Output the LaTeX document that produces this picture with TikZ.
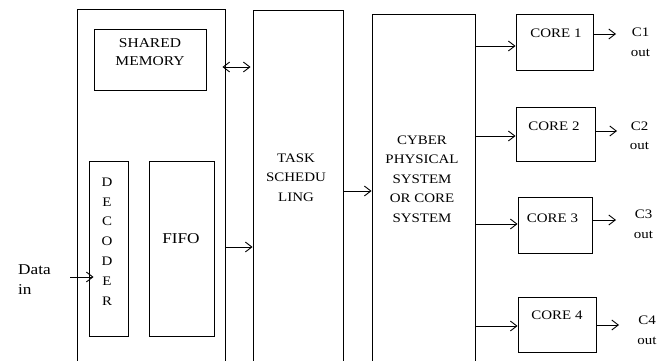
\documentclass[tikz,border=0pt]{standalone}
\usepackage{fontspec}
\setmainfont{Liberation Serif}[FakeStretch=1.15]
\usetikzlibrary{arrows.meta}
\begin{document}
\begin{tikzpicture}[x=1pt,y=-1pt,
  box/.style={draw, line width=0.9pt, inner sep=0pt},
  lbl/.style={inner sep=0pt, align=center, font=\fontsize{13}{19.5}\selectfont},
  big/.style={font=\fontsize{15}{20}\selectfont},
  tip/.tip={Straight Barb[length=6.5pt,width=10pt,line width=0.9pt]},
  arr/.style={-tip, line width=0.9pt},
  darr/.style={tip-tip, line width=0.9pt}]
\useasboundingbox (0,0) rectangle (670,361);
\clip (0,0) rectangle (670,361);

% input buffer block with shared memory, decoder and FIFO
\node[box, minimum width=148pt, minimum height=372pt] (buf) at (151,195) {};
\node[box, minimum width=112pt, minimum height=61pt] (mem) at (150,59.5) {};
\node[lbl, font=\fontsize{13.5}{18}\selectfont] (memtxt) at (150,52) {SHARED\\MEMORY};
\node[box, minimum width=39pt, minimum height=175pt] (dec) at (108.5,248.5) {};
\node[lbl, font=\fontsize{13}{19.8}\selectfont] (dectxt) at (107,241.5) {D\\E\\C\\O\\D\\E\\R};
\node[box, minimum width=65pt, minimum height=175pt] (fifo) at (181.5,248.5) {};
\node[lbl, big] (fifotxt) at (181,239) {FIFO};

% scheduler and core system
\node[box, minimum width=90pt, minimum height=372pt] (task) at (298,196) {};
\node[lbl] (tasktxt) at (296,177.5) {TASK\\SCHEDU\\LING};
\node[box, minimum width=103pt, minimum height=370pt] (cps) at (423.5,199) {};
\node[lbl] (cpstxt) at (422,179) {CYBER\\PHYSICAL\\SYSTEM\\OR CORE\\SYSTEM};

% cores
\node[box, minimum width=77pt, minimum height=56pt] (core1) at (554.5,42) {};
\node[lbl] (c1txt) at (556,33) {CORE 1};
\node[box, minimum width=79pt, minimum height=54pt] (core2) at (555.5,134) {};
\node[lbl] (c2txt) at (554,126) {CORE 2};
\node[box, minimum width=74pt, minimum height=56pt] (core3) at (555,225) {};
\node[lbl] (c3txt) at (552.5,218) {CORE 3};
\node[box, minimum width=78pt, minimum height=55pt] (core4) at (557,324.5) {};
\node[lbl] (c4txt) at (557,315) {CORE 4};

% outputs
\coordinate (o1) at (616,34);
\coordinate (o2) at (617,131);
\coordinate (o3) at (616,220);
\coordinate (o4) at (619,325);
\node[lbl] (out1) at (640.5,42.5) {C1\\out};
\node[lbl] (out2) at (639.5,136) {C2\\out};
\node[lbl] (out3) at (643.5,224.5) {C3\\out};
\node[lbl] (out4) at (647,330.5) {C4\\out};

% data input
\node[lbl, big, align=left, anchor=west] (datain) at (18,280) {Data\\in};
\coordinate (din) at (70,277);

% connectors
\draw[arr] (din) -- ([xshift=5pt]dec.west |- din);
\draw[darr] ([xshift=-3pt]buf.east |- 0,67) -- ([xshift=-2pt]task.west |- 0,67);
\draw[arr] (buf.east |- 0,247) -- (task.west |- 0,247);
\draw[arr] (task.east |- 0,191) -- (cps.west |- 0,191);
\draw[arr] (cps.east |- 0,46) -- (core1.west |- 0,46);
\draw[arr] (cps.east |- 0,136) -- (core2.west |- 0,136);
\draw[arr] (cps.east |- 0,224) -- (core3.west |- 0,224);
\draw[arr] (cps.east |- 0,326) -- (core4.west |- 0,326);
\draw[arr] (core1.east |- o1) -- (o1);
\draw[arr] (core2.east |- o2) -- (o2);
\draw[arr] (core3.east |- o3) -- (o3);
\draw[arr] (core4.east |- o4) -- (o4);
\end{tikzpicture}
\end{document}
